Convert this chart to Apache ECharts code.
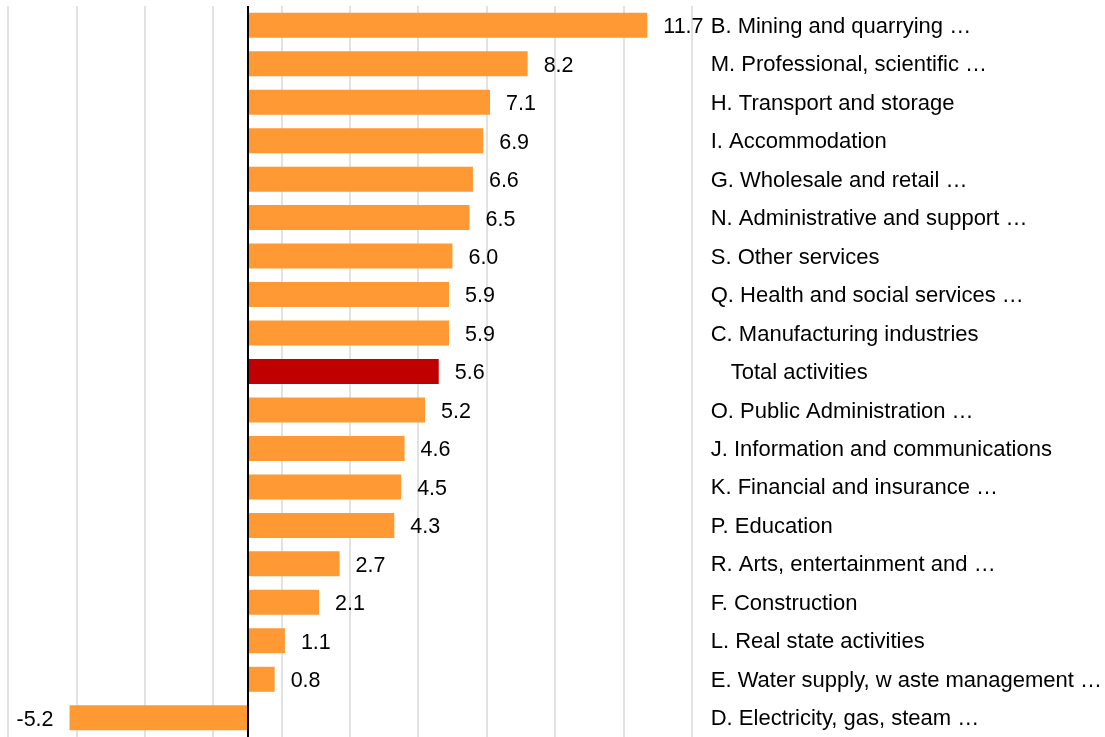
<!DOCTYPE html>
<html>
<head>
<meta charset="utf-8">
<script src="https://cdn.jsdelivr.net/npm/echarts@6/dist/echarts.min.js"></script>
<style>
  html, body { margin: 0; padding: 0; background: #ffffff; }
  #chart { width: 1105px; height: 737px; }
</style>
</head>
<body>
<div id="chart"></div>
<script>
const categories = [
  "B. Mining and quarrying …",
  "M. Professional, scientific …",
  "H. Transport and storage",
  "I. Accommodation",
  "G. Wholesale and retail …",
  "N. Administrative and support …",
  "S. Other services",
  "Q. Health and social services …",
  "C. Manufacturing industries",
  "Total activities",
  "O. Public Administration …",
  "J. Information and communications",
  "K. Financial and insurance …",
  "P. Education",
  "R. Arts, entertainment and …",
  "F. Construction",
  "L. Real state activities",
  "E. Water supply, w aste management …",
  "D. Electricity, gas, steam …"
];
const values = [11.7, 8.2, 7.1, 6.9, 6.6, 6.5, 6.0, 5.9, 5.9, 5.6, 5.2, 4.6, 4.5, 4.3, 2.7, 2.1, 1.1, 0.8, -5.2];
const highlightCategory = "Total activities";
const axisMin = -7;
const axisMax = 13;
const axisInterval = 2;

const ORANGE = '#FF9933';
const RED = '#C00000';
const FONT = '"Liberation Sans", Arial, sans-serif';
const FS = 22;

const barData = values.map((v, i) => ({
  value: v,
  itemStyle: { color: categories[i] === highlightCategory ? RED : ORANGE },
  label: { position: v < 0 ? 'left' : 'right' }
}));

const chart = echarts.init(document.getElementById('chart'), null, { renderer: 'canvas' });
chart.setOption({
  animation: false,
  backgroundColor: '#ffffff',
  grid: { left: 8, right: 413, top: 6, bottom: -3, containLabel: false },
  xAxis: {
    type: 'value',
    min: axisMin,
    max: axisMax,
    interval: axisInterval,
    axisLabel: { show: false },
    axisLine: { show: false },
    axisTick: { show: false },
    splitLine: { show: true, lineStyle: { color: '#D9D9D9', width: 1.5 } }
  },
  yAxis: {
    type: 'category',
    data: categories,
    inverse: true,
    position: 'right',
    axisLine: { show: false },
    axisTick: { show: false },
    axisLabel: {
      show: true,
      margin: 19,
      align: 'left',
      color: '#000000',
      fontFamily: FONT,
      fontSize: FS,
      padding: [3, 0, 0, 0],
      formatter: function (v) {
        return v === highlightCategory ? '{t|' + v + '}' : v;
      },
      rich: {
        t: { padding: [0, 0, 0, 20], color: '#000000', fontFamily: FONT, fontSize: FS }
      }
    }
  },
  series: [
    {
      type: 'bar',
      data: barData,
      barWidth: 25,
      label: {
        show: true,
        distance: 16,
        offset: [0, 2],
        color: '#000000',
        fontFamily: FONT,
        fontSize: 21.5,
        formatter: function (p) { return p.value.toFixed(1); }
      },
      markLine: {
        silent: true,
        symbol: ['none', 'none'],
        label: { show: false },
        lineStyle: { color: '#000000', width: 2, type: 'solid' },
        data: [{ xAxis: 0 }]
      }
    }
  ]
});
</script>
</body>
</html>
